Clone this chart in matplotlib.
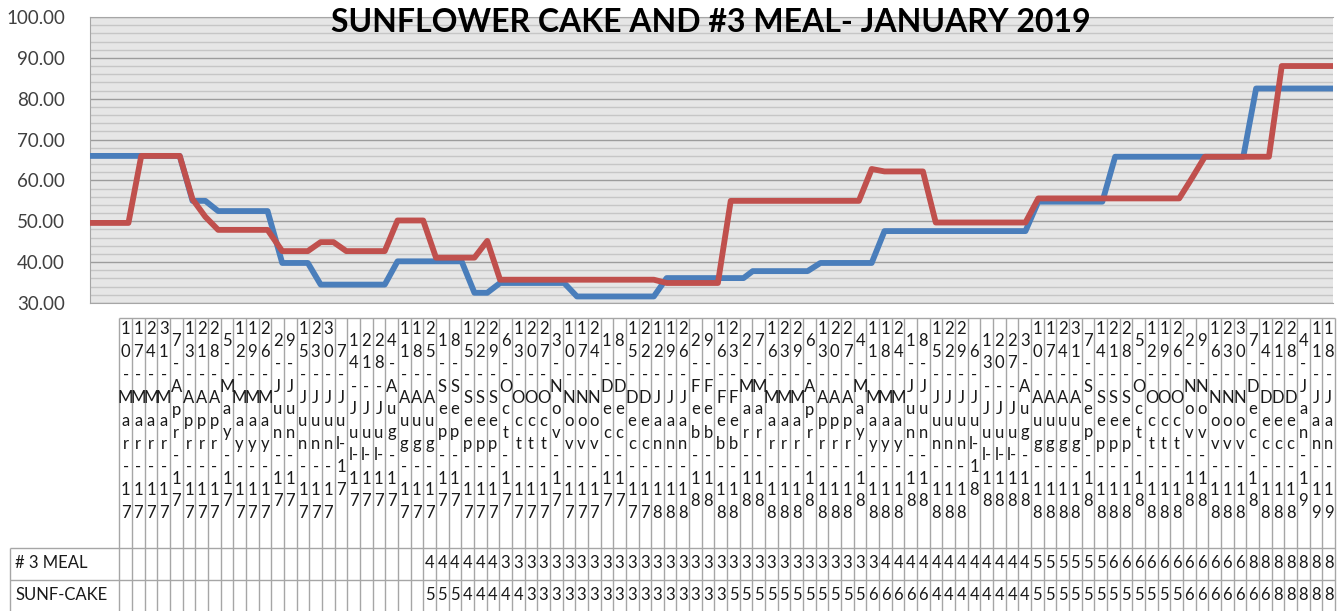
import pandas as pd
import matplotlib.pyplot as plt

plt.rcParams['font.family'] = ['Lato', 'DejaVu Sans']

# weekly dates (x is a date axis, so the gaps are real)
dates = ["10-Mar-17", "17-Mar-17", "24-Mar-17", "31-Mar-17",
         "7-Apr-17", "13-Apr-17", "21-Apr-17", "28-Apr-17",
         "5-May-17", "12-May-17", "19-May-17", "26-May-17",
         "2-Jun-17", "9-Jun-17", "15-Jun-17", "23-Jun-17", "30-Jun-17",
         "7-Jul-17", "14-Jul-17", "21-Jul-17", "28-Jul-17",
         "4-Aug-17", "11-Aug-17", "18-Aug-17", "25-Aug-17",
         "1-Sep-17", "8-Sep-17", "15-Sep-17", "22-Sep-17", "29-Sep-17",
         "6-Oct-17", "13-Oct-17", "20-Oct-17", "27-Oct-17",
         "3-Nov-17", "10-Nov-17", "17-Nov-17", "24-Nov-17",
         "1-Dec-17", "8-Dec-17", "15-Dec-17", "22-Dec-17",
         "12-Jan-18", "19-Jan-18", "26-Jan-18",
         "2-Feb-18", "9-Feb-18", "16-Feb-18", "23-Feb-18",
         "2-Mar-18", "7-Mar-18", "16-Mar-18", "23-Mar-18", "29-Mar-18",
         "6-Apr-18", "13-Apr-18", "20-Apr-18", "27-Apr-18",
         "4-May-18", "11-May-18", "18-May-18", "24-May-18",
         "1-Jun-18", "8-Jun-18", "15-Jun-18", "22-Jun-18", "29-Jun-18",
         "6-Jul-18", "13-Jul-18", "20-Jul-18", "27-Jul-18",
         "3-Aug-18", "10-Aug-18", "17-Aug-18", "24-Aug-18", "31-Aug-18",
         "7-Sep-18", "14-Sep-18", "21-Sep-18", "28-Sep-18",
         "5-Oct-18", "12-Oct-18", "19-Oct-18", "26-Oct-18",
         "2-Nov-18", "9-Nov-18", "16-Nov-18", "23-Nov-18", "30-Nov-18",
         "7-Dec-18", "14-Dec-18", "21-Dec-18", "28-Dec-18",
         "4-Jan-19", "11-Jan-19", "18-Jan-19"]

meal = [66.0, 66.0, 66.0, 66.0, 66.0, 66.0, 66.0, 66.0,
        55.0, 55.0,
        52.5, 52.5, 52.5, 52.5, 52.5,
        39.8, 39.8, 39.8,
        34.5, 34.5, 34.5, 34.5, 34.5, 34.5,
        40.2, 40.2, 40.2, 40.2, 40.2, 40.2,
        32.5, 32.5,
        34.9, 34.9, 34.9, 34.9, 34.9, 34.9,
        31.6, 31.6, 31.6, 31.6, 31.6,
        36.1, 36.1, 36.1, 36.1, 36.1, 36.1, 36.1,
        37.8, 37.8, 37.8, 37.8, 37.8,
        39.8, 39.8, 39.8, 39.8, 39.8,
        47.6, 47.6, 47.6, 47.6, 47.6, 47.6, 47.6, 47.6, 47.6, 47.6, 47.6, 47.6,
        54.8, 54.8, 54.8, 54.8, 54.8, 54.8,
        65.8, 65.8, 65.8, 65.8, 65.8, 65.8, 65.8, 65.8, 65.8, 65.8, 65.8,
        82.5, 82.5, 82.5, 82.5, 82.5, 82.5, 82.5]

cake = [49.6, 49.6, 49.6, 49.6,
        66.0, 66.0, 66.0, 66.0,
        55.4, 51.1,
        47.9, 47.9, 47.9, 47.9, 47.9,
        42.7, 42.7, 42.7,
        44.9, 44.9,
        42.7, 42.7, 42.7, 42.7,
        50.2, 50.2, 50.2,
        41.1, 41.1, 41.1, 41.1,
        45.2,
        35.7, 35.7, 35.7, 35.7, 35.7, 35.7, 35.7, 35.7, 35.7, 35.7, 35.7,
        34.9, 34.9, 34.9, 34.9, 34.9,
        55.0, 55.0, 55.0, 55.0, 55.0, 55.0, 55.0, 55.0, 55.0, 55.0, 55.0,
        62.8,
        62.2, 62.2, 62.2, 62.2,
        49.7, 49.7, 49.7, 49.7, 49.7, 49.7, 49.7, 49.7,
        55.6, 55.6, 55.6, 55.6, 55.6, 55.6, 55.6, 55.6, 55.6, 55.6, 55.6, 55.6,
        60.6,
        65.8, 65.8, 65.8, 65.8, 65.8, 65.8,
        88.0, 88.0, 88.0, 88.0, 88.0]

row_names = ['# 3 MEAL', 'SUNF-CAKE']
table_from = 24   # the data table shows no values before this column
title = 'SUNFLOWER CAKE AND #3 MEAL- JANUARY 2019'

x = pd.to_datetime(dates, format='%d-%b-%y')

W, H = 1344, 611
fig = plt.figure(figsize=(W / 100, H / 100), dpi=100)

# plot area (pixels)
L, R, T, B = 90, 1333, 17, 303
ax = fig.add_axes([L / W, 1 - B / H, (R - L) / W, (B - T) / H])
ax.set_facecolor('#e6e6e6')
ax.plot(x, meal, color='#4a7ebb', lw=4.2, zorder=3)
ax.plot(x, cake, color='#c0504d', lw=4.2, zorder=4)
ax.set_xlim(x[0], x[-1])
ax.set_ylim(30, 100)
yt = list(range(30, 101, 10))
ax.set_yticks(yt)
ax.set_yticklabels(['%.2f' % v for v in yt])
ax.set_yticks(range(30, 101, 2), minor=True)
ax.grid(axis='y', which='major', color='#9c9c9c', lw=1.0)
ax.grid(axis='y', which='minor', color='#c6c6c6', lw=1.0)
ax.set_axisbelow(True)
ax.tick_params(axis='y', which='both', length=0, pad=18, labelsize=13.5, labelcolor='#404040')
ax.tick_params(axis='x', which='both', bottom=False, labelbottom=False)
for s in ['left', 'top', 'bottom']:
    ax.spines[s].set_color('#a6a6a6')
ax.spines['right'].set_visible(False)

fig.text(711 / W, 1 - 23 / H, title, ha='center', va='center',
         fontsize=23, fontweight='bold', color='black')

# data table drawn in pixel coordinates
tab = fig.add_axes([0, 0, 1, 1])
tab.set_xlim(0, W)
tab.set_ylim(H, 0)
tab.axis('off')

c0, c1 = 119.3, 1335.0
n = len(dates)
cw = (c1 - c0) / n
head_top, head_bot, rh = 317.5, 547.5, 32
gc = '#a6a6a6'

tab.hlines(head_top, c0, c1, color=gc, lw=1)
for k in range(3):
    tab.hlines(head_bot + k * rh, 10, c1, color=gc, lw=1)
tab.vlines([c0 + i * cw for i in range(n + 1)], head_top, H, color=gc, lw=1)
tab.vlines(10, head_bot, H, color=gc, lw=1)


def wrap(label):
    widths = {'l': 0.23, '-': 0.31, 'i': 0.23}
    lines, cur, w = [], '', 0
    for ch in label:
        c = widths.get(ch, 0.5)
        if cur and w + c > 0.56:
            lines.append(cur)
            cur, w = '', 0
        cur += ch
        w += c
    lines.append(cur)
    return lines


yc, lh = 421, 23
for i, lab in enumerate(dates):
    xc = c0 + (i + 0.5) * cw
    parts = wrap(lab)
    m = len(parts)
    for k, p in enumerate(parts):
        tab.text(xc, yc + (k - (m - 1) / 2) * lh, p, ha='center', va='center',
                 fontsize=12, color='#1a1a1a')

for r, (name, vals) in enumerate(zip(row_names, [meal, cake])):
    ym = head_bot + (r + 0.5) * rh
    tab.text(15, ym, name, ha='left', va='center', fontsize=12, color='#1a1a1a')
    for i, v in enumerate(vals):
        if i < table_from:
            continue
        tab.text(c0 + (i + 0.5) * cw, ym, ('%.2f' % v)[0], ha='center', va='center',
                 fontsize=12, color='#1a1a1a')

fig.savefig('out.png', dpi=100)
